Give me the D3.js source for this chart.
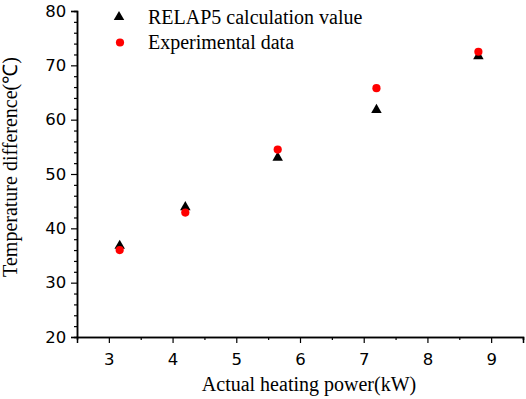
<!DOCTYPE html>
<meta charset="utf-8">
<script src="https://d3js.org/d3.v7.min.js"></script>
<style>
  body { margin: 0; background: #fff; }
</style>
<div id="chart"></div>
<script>
// data
var power      = [3.17, 4.2, 5.65, 7.2, 8.8];
var relap5     = [36.8, 43.9, 53.0, 61.8, 71.7];
var experiment = [36.0, 42.9, 54.5, 65.8, 72.5];
var xTicks = [3, 4, 5, 6, 7, 8, 9];
var yTicks = [20, 30, 40, 50, 60, 70, 80];
var seriesNames = ["RELAP5 calculation value", "Experimental data"];

var W = 526, H = 399;
var margin = {top: 11, right: 3, bottom: 62, left: 77};
var width = W - margin.left - margin.right,
    height = H - margin.top - margin.bottom;

var svg = d3.select("#chart").append("svg")
    .attr("width", W).attr("height", H);
var g = svg.append("g")
    .attr("transform", "translate(" + margin.left + "," + margin.top + ")");

var x = d3.scaleLinear().domain([2.5, 9.5]).range([0, width]);
var y = d3.scaleLinear().domain([20, 80]).range([height, 0]);

// minor ticks
var xMinor = d3.range(3.5, 9.6, 1);
var yMinor = d3.range(22, 80, 2).filter(function(v) { return v % 10 !== 0; });

var xAxis = g.append("g").attr("transform", "translate(0," + height + ")");
xAxis.call(d3.axisBottom(x).tickValues(xMinor).tickSize(3).tickFormat(""));
xAxis.append("g").call(d3.axisBottom(x).tickValues(xTicks).tickSize(6).tickFormat(d3.format("d")));

var yAxis = g.append("g");
yAxis.call(d3.axisLeft(y).tickValues(yMinor).tickSize(3).tickFormat(""));
yAxis.append("g").call(d3.axisLeft(y).tickValues(yTicks).tickSize(6).tickFormat(d3.format("d")));

g.selectAll(".domain").attr("stroke", "#000").attr("stroke-width", 1.5);
g.selectAll(".tick line").attr("stroke", "#000").attr("stroke-width", 1.2);
g.selectAll(".tick text")
  .attr("font-family", "DejaVu Sans, Verdana, sans-serif")
  .attr("font-size", 16.5).attr("fill", "#000");
xAxis.selectAll(".tick text").attr("y", 28).attr("dy", null);
yAxis.selectAll(".tick text").attr("dx", "-0.1em");

var serif = "Liberation Serif, Times New Roman, serif";

// axis titles
svg.append("text")
  .attr("x", 309).attr("y", 391)
  .attr("text-anchor", "middle")
  .attr("font-family", serif)
  .attr("font-size", 20)
  .text("Actual heating power(kW)");

svg.append("text")
  .attr("transform", "translate(17,167) rotate(-90)")
  .attr("text-anchor", "middle")
  .attr("font-family", serif)
  .attr("font-size", 20)
  .text("Temperature difference(℃)");

// markers
var tri = d3.symbol().type(d3.symbolTriangle).size(48);

g.selectAll(".relap").data(power).enter().append("path")
  .attr("class", "relap")
  .attr("d", tri)
  .attr("transform", function(d, i) { return "translate(" + x(d) + "," + y(relap5[i]) + ")"; })
  .attr("fill", "#000");

g.selectAll(".exp").data(power).enter().append("circle")
  .attr("class", "exp")
  .attr("cx", function(d) { return x(d); })
  .attr("cy", function(d, i) { return y(experiment[i]); })
  .attr("r", 4.1)
  .attr("fill", "#ff0000");

// legend
var legend = svg.append("g");
legend.append("path").attr("d", tri).attr("transform", "translate(119,17)").attr("fill", "#000");
legend.append("circle").attr("cx", 120).attr("cy", 42.5).attr("r", 4.1).attr("fill", "#ff0000");
legend.selectAll("text").data(seriesNames).enter().append("text")
  .attr("x", 148)
  .attr("y", function(d, i) { return 24 + i * 25; })
  .attr("font-family", serif)
  .attr("font-size", 20)
  .text(function(d) { return d; });
</script>
